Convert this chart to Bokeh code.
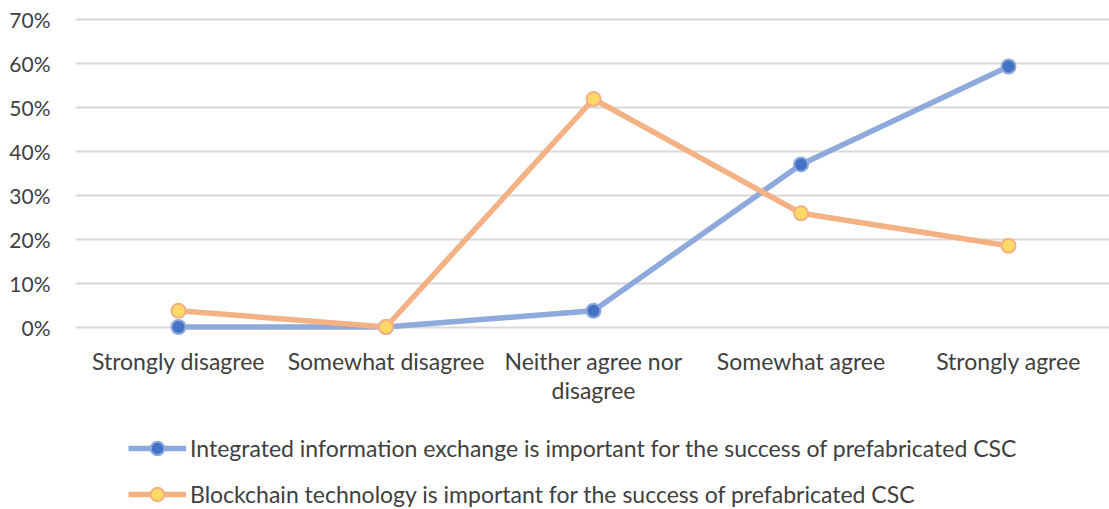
import numpy as np
from bokeh.plotting import figure
from bokeh.layouts import column
from bokeh.models import (Range1d, FixedTicker, NumeralTickFormatter,
                          Legend, LegendItem, ColumnDataSource)
from bokeh.embed import file_html
from bokeh.resources import INLINE

categories = ["Strongly disagree", "Somewhat disagree", "Neither agree nor\ndisagree",
              "Somewhat agree", "Strongly agree"]
series_names = ["Integrated information exchange is important for the success of prefabricated CSC",
                "Blockchain technology is important for the success of prefabricated CSC"]
integrated = [0.0, 0.0, 0.037, 0.370, 0.593]
blockchain = [0.037, 0.0, 0.519, 0.259, 0.185]
y_ticks = [0.0, 0.1, 0.2, 0.3, 0.4, 0.5, 0.6, 0.7]

FONT = "Lato"
TXT = "#404040"
W = 1109

# category positions (band centres)
xpos = list(np.arange(len(categories)) + 0.5)

x_range = Range1d(0.0036, 4.9867)
y_range = Range1d(-0.0307, 0.725)

p = figure(width=W, height=424, output_backend="svg", toolbar_location=None,
           x_range=x_range, y_range=y_range,
           min_border_left=75, min_border_right=0, min_border_top=8, min_border_bottom=84)
p.outline_line_color = None

p.xgrid.grid_line_color = None
p.ygrid.grid_line_color = "#D9D9D9"
p.ygrid.grid_line_width = 2
p.yaxis.ticker = FixedTicker(ticks=y_ticks)
p.yaxis.formatter = NumeralTickFormatter(format="0%")
p.xaxis.ticker = FixedTicker(ticks=xpos)
p.xaxis.major_label_overrides = {float(x): c for x, c in zip(xpos, categories)}

for ax in (p.xaxis, p.yaxis):
    ax.axis_line_color = None
    ax.major_tick_line_color = None
    ax.minor_tick_line_color = None
    ax.major_label_text_font = FONT
    ax.major_label_text_color = TXT
p.xaxis.major_label_text_font_size = "23px"
p.xaxis.major_label_text_line_height = 1.05
p.yaxis.major_label_text_font_size = "21px"
p.yaxis.major_label_standoff = 19
p.xaxis.major_label_standoff = 0

src1 = ColumnDataSource(dict(x=xpos, y=integrated))
src2 = ColumnDataSource(dict(x=xpos, y=blockchain))

styles = [
    dict(line=dict(line_color="#8EA9DB", line_width=5.5),
         mark=dict(size=14, fill_color="#4472C4", line_color="#8EA9DB", line_width=2)),
    dict(line=dict(line_color="#F4B183", line_width=5.5),
         mark=dict(size=14, fill_color="#FFD966", line_color="#F4B183", line_width=2)),
]

for src, st in zip((src1, src2), styles):
    p.line("x", "y", source=src, **st["line"])
    p.scatter("x", "y", source=src, **st["mark"])

# legend figure below the chart
lf = figure(width=W, height=85, output_backend="svg", toolbar_location=None,
            x_range=x_range, y_range=y_range, x_axis_type=None, y_axis_type=None,
            min_border_left=0, min_border_right=0, min_border_top=0, min_border_bottom=0)
lf.outline_line_color = None
lf.xgrid.grid_line_color = None
lf.ygrid.grid_line_color = None

items = []
for src, st, name in zip((src1, src2), styles, series_names):
    lr = lf.line("x", "y", source=src, visible=False, **st["line"])
    mr = lf.scatter("x", "y", source=src, visible=False, **st["mark"])
    items.append(LegendItem(label=name, renderers=[lr, mr]))

legend = Legend(items=items, location=(53, -2), orientation="vertical",
                border_line_color=None, background_fill_alpha=0,
                padding=0, margin=0, spacing=12,
                glyph_width=58, glyph_height=34, label_height=34,
                label_standoff=4,
                label_text_font=FONT, label_text_font_size="23px",
                label_text_color=TXT)
lf.add_layout(legend, "center")

layout = column(p, lf, spacing=0)
open("out.html", "w").write(file_html(layout, INLINE))
